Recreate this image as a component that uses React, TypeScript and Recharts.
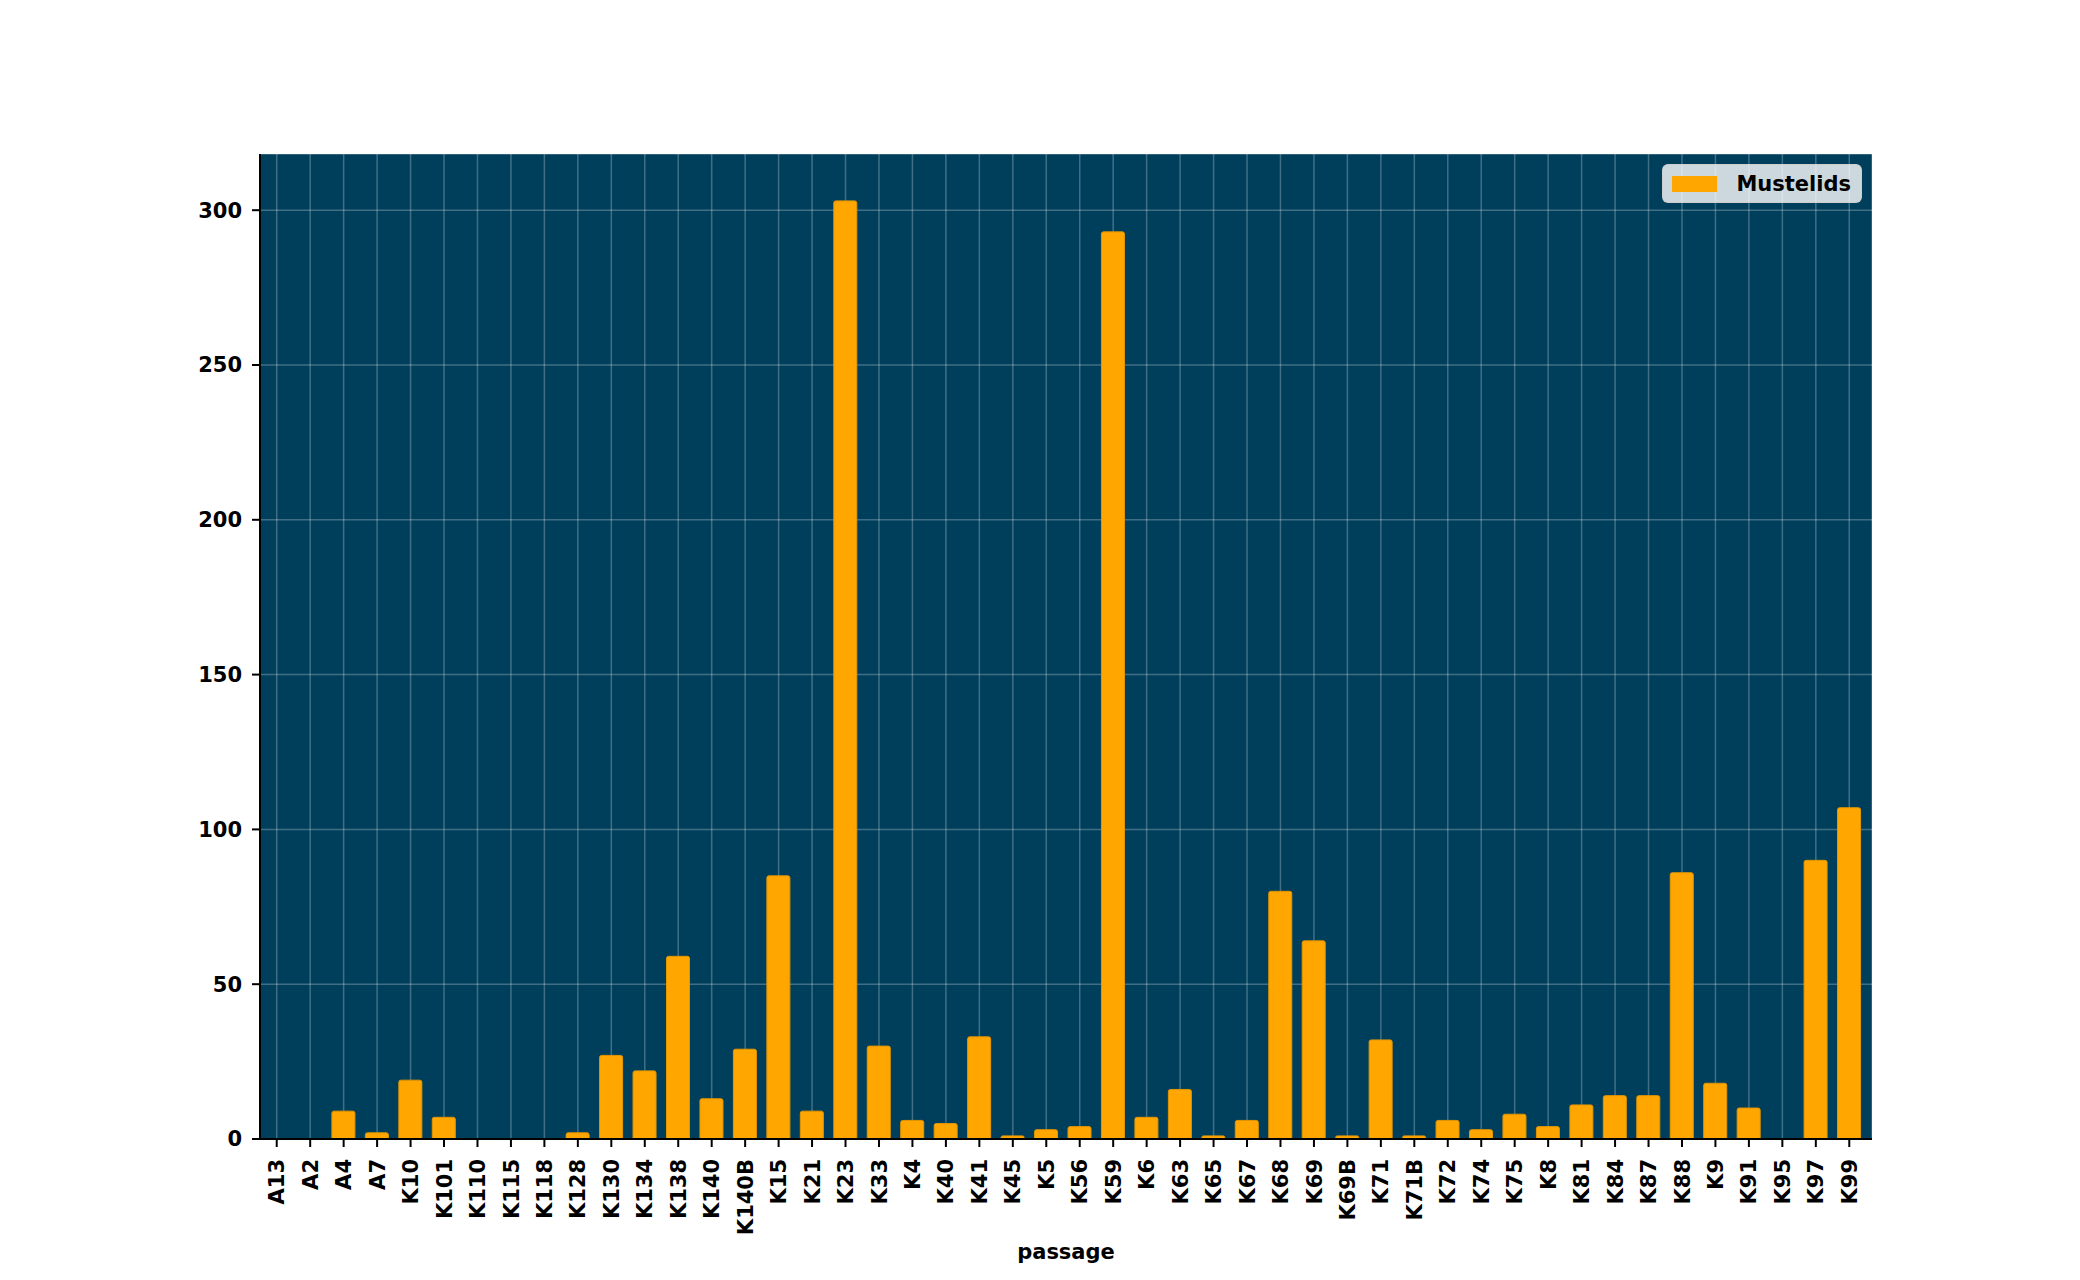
import React from "react";
import {
  BarChart,
  Bar,
  XAxis,
  YAxis,
  CartesianGrid,
  Legend,
  Label,
} from "recharts";

const passages = [
  "A13", "A2", "A4", "A7", "K10", "K101", "K110", "K115", "K118", "K128",
  "K130", "K134", "K138", "K140", "K140B", "K15", "K21", "K23", "K33", "K4",
  "K40", "K41", "K45", "K5", "K56", "K59", "K6", "K63", "K65", "K67",
  "K68", "K69", "K69B", "K71", "K71B", "K72", "K74", "K75", "K8", "K81",
  "K84", "K87", "K88", "K9", "K91", "K95", "K97", "K99",
];

const mustelids = [
  0, 0, 9, 2, 19, 7, 0, 0, 0, 2,
  27, 22, 59, 13, 29, 85, 9, 303, 30, 6,
  5, 33, 1, 3, 4, 293, 7, 16, 1, 6,
  80, 64, 1, 32, 1, 6, 3, 8, 4, 11,
  14, 14, 86, 18, 10, 0, 90, 107,
];

const yTicks = [0, 50, 100, 150, 200, 250, 300];

const data = passages.map((p, i) => ({ passage: p, Mustelids: mustelids[i] }));

const FONT = "'DejaVu Sans', sans-serif";
const FS = 21;

function XTick({ x, y, payload }: any) {
  return (
    <g transform={`translate(${x},${y})`}>
      <text
        transform="rotate(-90)"
        x={-12}
        y={0}
        dy="0.36em"
        textAnchor="end"
        fontFamily={FONT}
        fontWeight="bold"
        fontSize={FS}
        fill="#000"
      >
        {payload.value}
      </text>
    </g>
  );
}

function LegendBox() {
  return (
    <div
      style={{
        display: "flex",
        alignItems: "center",
        background: "rgba(255,255,255,0.8)",
        border: "1px solid rgba(204,204,204,0.8)",
        borderRadius: 6,
        padding: "0 10px 0 9px",
        height: 37,
        fontFamily: FONT,
        fontWeight: "bold",
        fontSize: FS,
        color: "#000",
      }}
    >
      <span
        style={{
          display: "inline-block",
          width: 45,
          height: 16,
          background: "#ffa600",
          marginRight: 19,
        }}
      />
      Mustelids
    </div>
  );
}

export default function App() {
  return (
    <div style={{ width: 2080, height: 1280, background: "#fff" }}>
      <style>{`body{margin:0}`}</style>
      <BarChart
        width={2080}
        height={1280}
        data={data}
        margin={{ top: 154, right: 208, bottom: 21, left: 200 }}
        barSize={23}
      >
        <CartesianGrid
          fill="#003f5c"
          fillOpacity={1}
          stroke="rgba(255,255,255,0.25)"
          strokeWidth={1.5}
        />
        <XAxis
          dataKey="passage"
          interval={0}
          height={120}
          tickSize={8}
          tickMargin={0}
          tick={<XTick />}
          tickLine={{ stroke: "#000", strokeWidth: 2 }}
          axisLine={{ stroke: "#000", strokeWidth: 2 }}
          padding={{ left: 0, right: 6 }}
        >
          <Label
            value="passage"
            position="insideBottom"
            offset={0}
            style={{
              fontFamily: FONT,
              fontWeight: "bold",
              fontSize: FS,
              fill: "#000",
            }}
          />
        </XAxis>
        <XAxis
          xAxisId="top"
          dataKey="passage"
          orientation="top"
          height={0}
          tick={false}
          tickLine={false}
          axisLine={{ stroke: "#000", strokeWidth: 2 }}
        />
        <YAxis
          width={60}
          domain={[0, 318.15]}
          ticks={yTicks}
          allowDataOverflow
          tickSize={8}
          tickMargin={10}
          tick={{
            fontFamily: FONT,
            fontWeight: "bold",
            fontSize: FS,
            fill: "#000",
          }}
          tickLine={{ stroke: "#000", strokeWidth: 2 }}
          axisLine={{ stroke: "#000", strokeWidth: 2 }}
        />
        <YAxis
          yAxisId="right"
          orientation="right"
          width={0}
          domain={[0, 318.15]}
          tick={false}
          tickLine={false}
          axisLine={{ stroke: "#000", strokeWidth: 2 }}
        />
        <Legend
          verticalAlign="middle"
          align="center"
          layout="horizontal"
          content={<LegendBox />}
          wrapperStyle={{ top: 164, right: 218, left: "auto", width: "auto" }}
        />
        <Bar
          dataKey="Mustelids"
          fill="#ffa600"
          stroke="#e59500"
          strokeWidth={1}
          radius={[2, 2, 0, 0]}
          isAnimationActive={false}
        />
      </BarChart>
    </div>
  );
}
